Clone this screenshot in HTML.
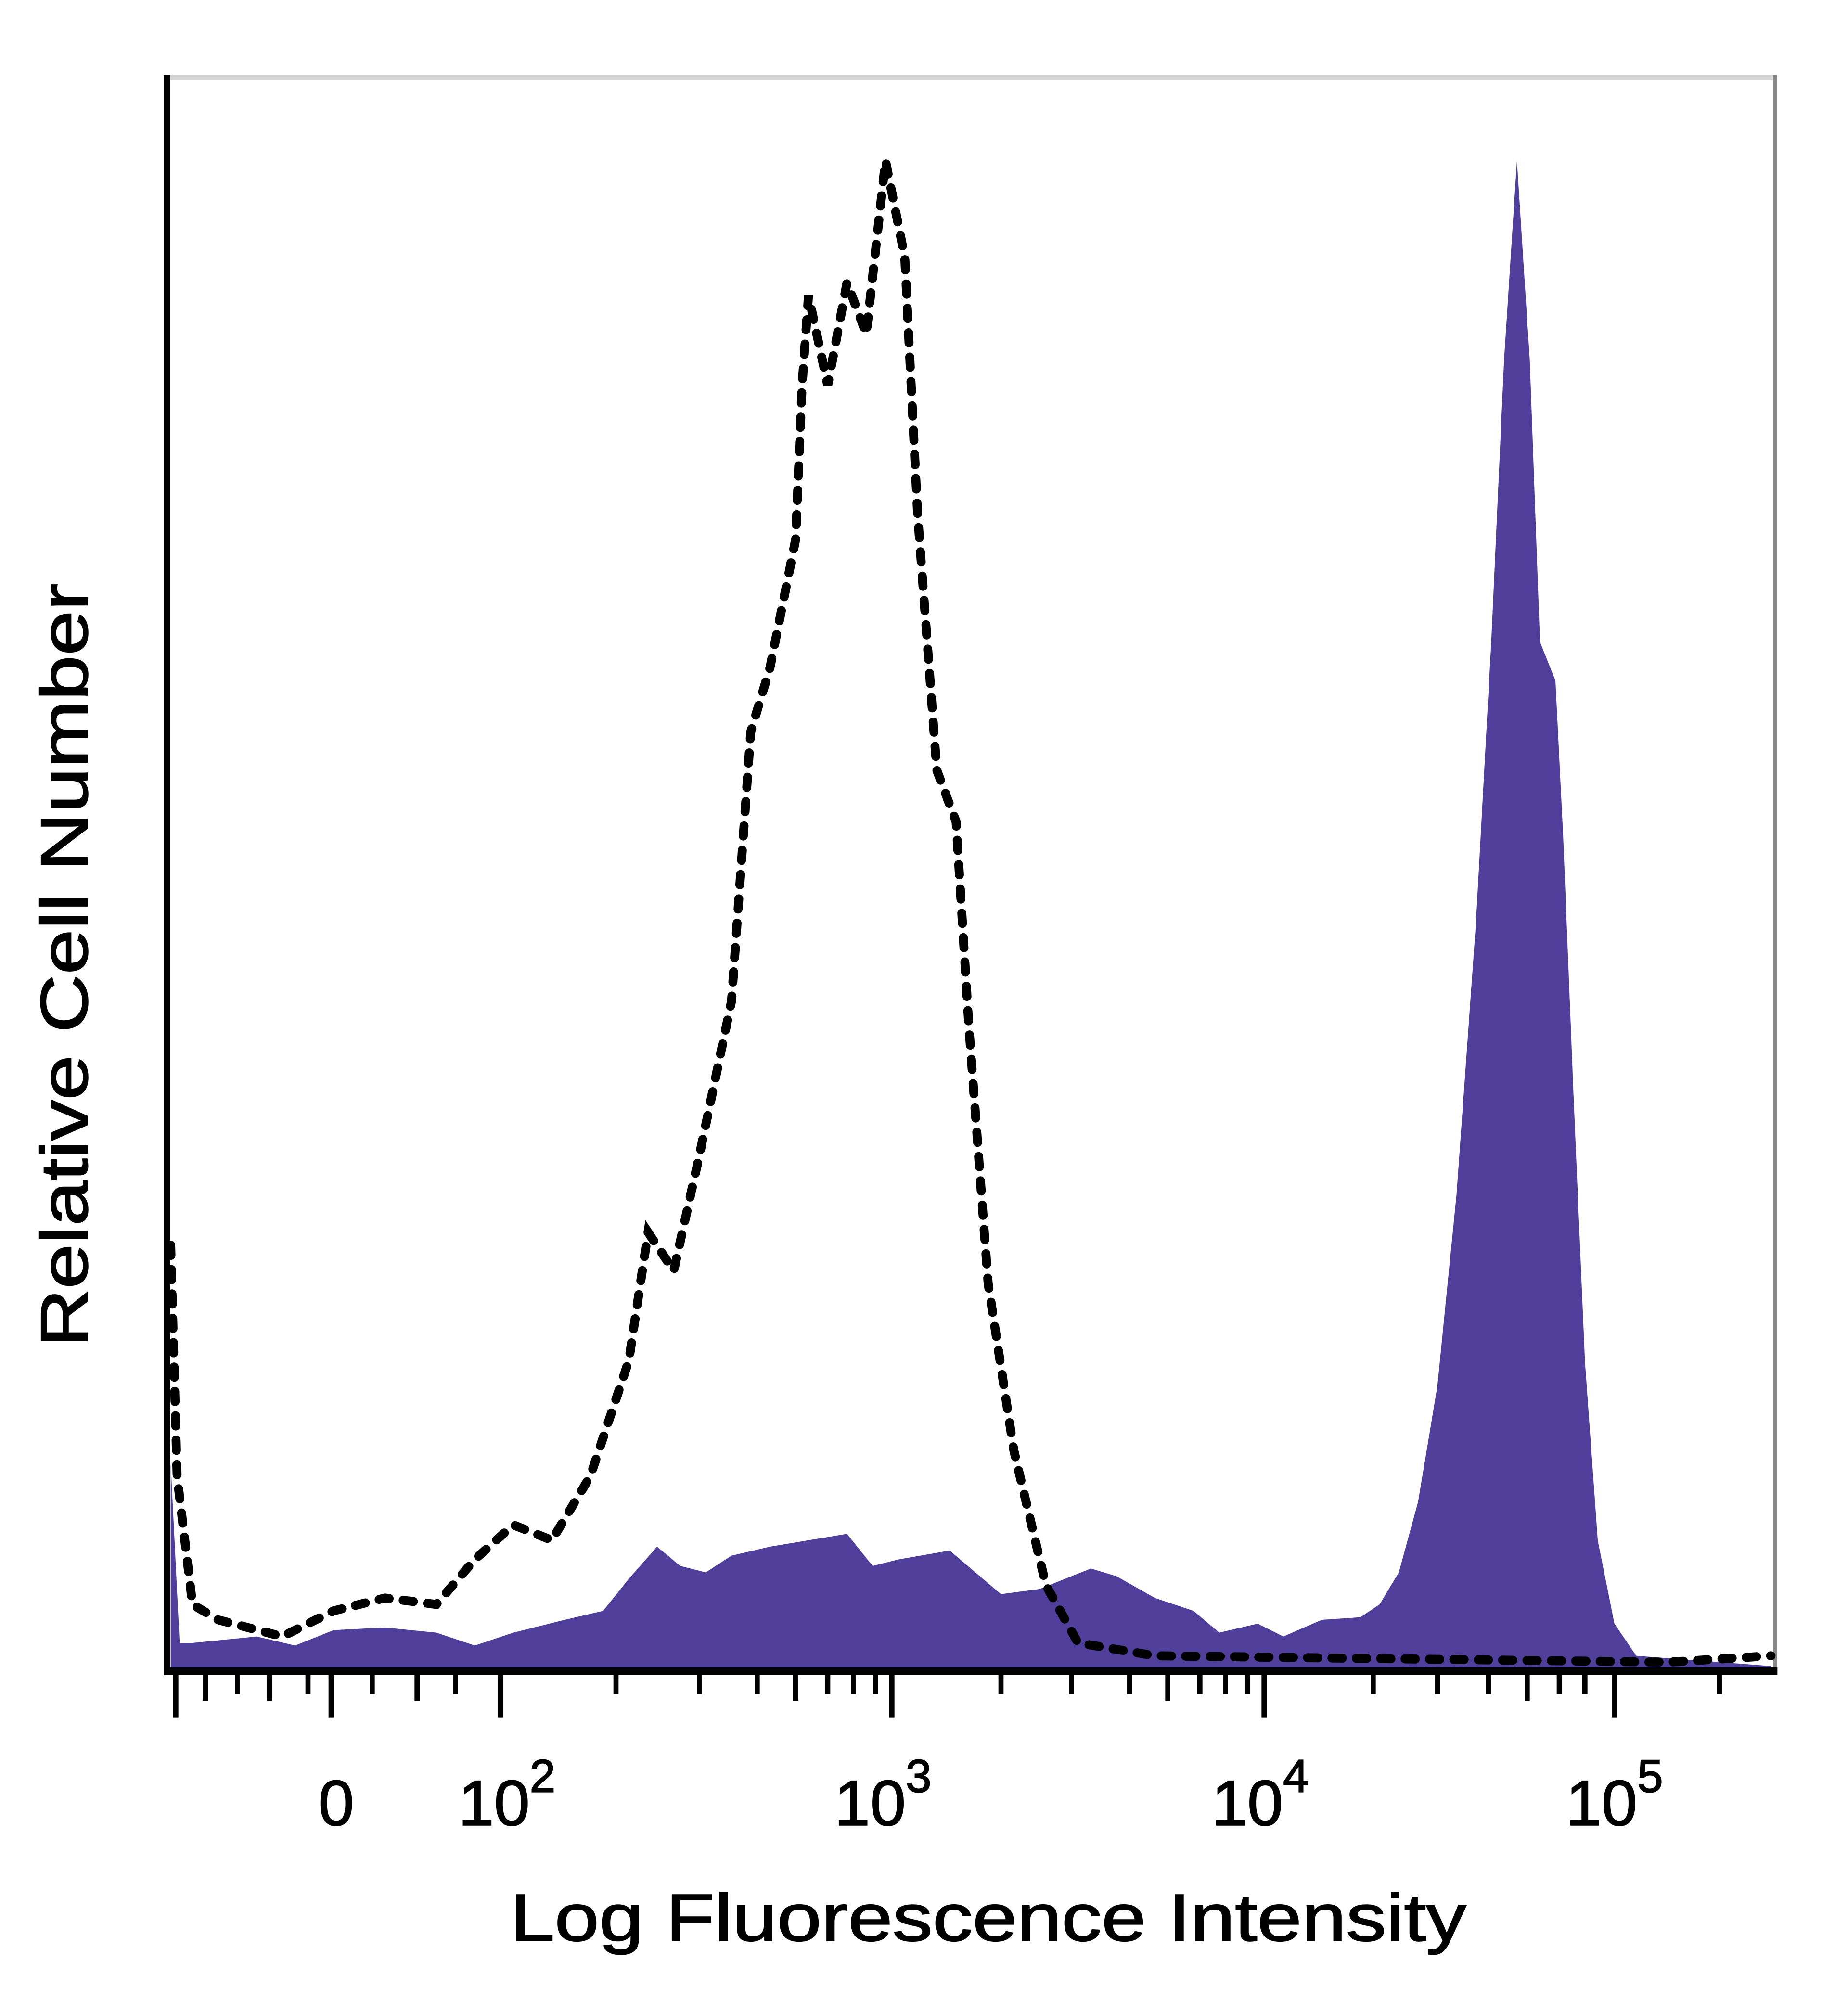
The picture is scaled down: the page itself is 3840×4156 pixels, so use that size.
<!DOCTYPE html>
<html><head><style>html,body{margin:0;padding:0;background:#fff}svg{display:block}</style></head>
<body>
<svg width="3840" height="4156" viewBox="0 0 1440 1558" xmlns="http://www.w3.org/2000/svg">
<rect width="1440" height="1558" fill="#fff"/>
<line x1="130" y1="60" x2="1383" y2="60" stroke="#d2d4d4" stroke-width="4"/>
<line x1="1383" y1="58" x2="1383" y2="1302" stroke="#888" stroke-width="3"/>
<polygon fill="#4f3f9a" points="133,1302 133,1140 140,1280 150,1280 200,1275 230,1282 260,1270 300,1268 340,1272 370,1282 400,1272 440,1262 470,1255 490,1230 512,1205 530,1220 550,1225 570,1212 600,1205 630,1200 660,1195 680,1220 700,1215 740,1208 760,1225 780,1242 810,1238 850,1222 870,1228 900,1245 930,1255 950,1272 980,1265 1000,1275 1030,1262 1060,1260 1075,1250 1090,1225 1105,1170 1120,1080 1135,930 1150,720 1162,500 1172,280 1182,125 1192,280 1200,500 1212,530 1218,650 1226,850 1235,1060 1245,1200 1258,1265 1275,1290 1380,1298 1380,1302"/>
<polyline fill="none" stroke="#000" stroke-width="7" stroke-dasharray="8 11" stroke-linecap="round" points="133,970 138,1150 150,1250 170,1262 220,1275 260,1255 300,1245 340,1250 370,1215 400,1188 430,1200 460,1150 490,1060 505,960 525,990 545,900 570,780 585,570 600,520 620,420 625,300 630,230 645,300 660,220 675,260 690,125 705,200 715,400 730,600 745,640 755,800 770,1000 790,1130 815,1235 840,1280 900,1290 1300,1295 1380,1290"/>
<line x1="130" y1="58" x2="130" y2="1305" stroke="#000" stroke-width="5"/>
<line x1="128" y1="1302" x2="1385" y2="1302" stroke="#000" stroke-width="6"/>
<g stroke="#000" stroke-width="4">
<line x1="137" y1="1302" x2="137" y2="1338"/><line x1="258" y1="1302" x2="258" y2="1338"/>
<line x1="390" y1="1302" x2="390" y2="1338"/><line x1="695" y1="1302" x2="695" y2="1338"/>
<line x1="985" y1="1302" x2="985" y2="1338"/><line x1="1258" y1="1302" x2="1258" y2="1338"/>
<line x1="160" y1="1302" x2="160" y2="1325"/><line x1="185" y1="1302" x2="185" y2="1320"/><line x1="210" y1="1302" x2="210" y2="1325"/>
<line x1="240" y1="1302" x2="240" y2="1320"/><line x1="290" y1="1302" x2="290" y2="1320"/><line x1="325" y1="1302" x2="325" y2="1325"/>
<line x1="355" y1="1302" x2="355" y2="1320"/>
<line x1="480" y1="1302" x2="480" y2="1320"/><line x1="545" y1="1302" x2="545" y2="1320"/><line x1="590" y1="1302" x2="590" y2="1320"/><line x1="620" y1="1302" x2="620" y2="1325"/><line x1="645" y1="1302" x2="645" y2="1320"/><line x1="665" y1="1302" x2="665" y2="1320"/><line x1="682" y1="1302" x2="682" y2="1320"/>
<line x1="780" y1="1302" x2="780" y2="1320"/><line x1="835" y1="1302" x2="835" y2="1320"/><line x1="880" y1="1302" x2="880" y2="1320"/><line x1="910" y1="1302" x2="910" y2="1325"/><line x1="935" y1="1302" x2="935" y2="1320"/><line x1="955" y1="1302" x2="955" y2="1320"/><line x1="972" y1="1302" x2="972" y2="1320"/>
<line x1="1070" y1="1302" x2="1070" y2="1320"/><line x1="1120" y1="1302" x2="1120" y2="1320"/><line x1="1160" y1="1302" x2="1160" y2="1320"/><line x1="1190" y1="1302" x2="1190" y2="1325"/><line x1="1215" y1="1302" x2="1215" y2="1320"/><line x1="1235" y1="1302" x2="1235" y2="1320"/>
<line x1="1340" y1="1302" x2="1340" y2="1320"/>
</g>
<g font-family="Liberation Sans, sans-serif" font-size="50" fill="#000" stroke="#000" stroke-width="0.8" text-anchor="middle">
<text x="262" y="1422">0</text>
<text x="395" y="1422">10<tspan font-size="36" dy="-26">2</tspan></text>
<text x="688" y="1422">10<tspan font-size="36" dy="-26">3</tspan></text>
<text x="982" y="1422">10<tspan font-size="36" dy="-26">4</tspan></text>
<text x="1258" y="1422">10<tspan font-size="36" dy="-26">5</tspan></text>
<text x="770" y="1512" font-size="52" textLength="745" lengthAdjust="spacingAndGlyphs">Log Fluorescence Intensity</text>
<text transform="translate(68,752) rotate(-90)" font-size="52" textLength="595" lengthAdjust="spacingAndGlyphs">Relative Cell Number</text>
</g>
</svg>
</body></html>
